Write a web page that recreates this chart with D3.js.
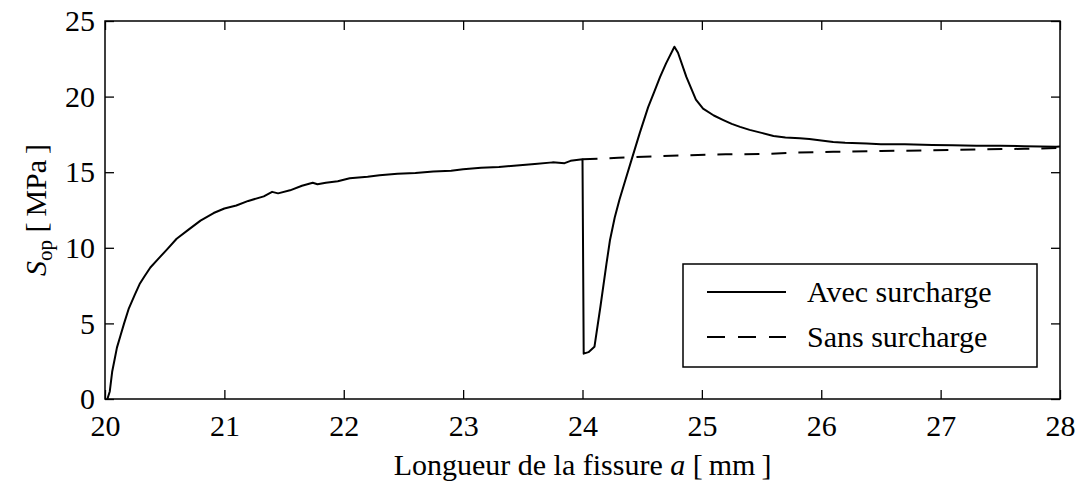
<!DOCTYPE html>
<html>
<head>
<meta charset="utf-8">
<script src="https://cdn.jsdelivr.net/npm/d3@7"></script>
<style>
	body { margin: 0; background: #fff; }
	svg { display: block; }
	text { font-family: 'Liberation Serif', 'DejaVu Serif', serif; fill: #000; }
</style>
</head>
<body>
<svg id="chart"></svg>
<script>
// ========== DATA ==========
var avecA = [20.02, 20.04, 20.06, 20.08, 20.10, 20.13, 20.16, 20.20, 20.25, 20.29, 20.33, 20.38,
	20.45, 20.52, 20.60, 20.70, 20.80, 20.91, 21.00, 21.10, 21.20, 21.33, 21.40, 21.45, 21.55,
	21.65, 21.74, 21.78, 21.85, 21.95, 22.05, 22.20, 22.30, 22.45, 22.60, 22.75, 22.90, 23.00,
	23.15, 23.30, 23.45, 23.60, 23.75, 23.85, 23.90, 24.00, 24.01, 24.05, 24.10, 24.15, 24.20,
	24.23, 24.27, 24.31, 24.36, 24.41, 24.48, 24.55, 24.60, 24.65, 24.70, 24.77, 24.80, 24.87,
	24.95, 25.01, 25.10, 25.18, 25.25, 25.32, 25.40, 25.50, 25.60, 25.70, 25.82, 25.90, 26.00,
	26.10, 26.20, 26.38, 26.50, 26.70, 26.93, 27.10, 27.30, 27.50, 27.70, 27.97, 28.00];
var avecS = [0, 0.5, 1.8, 2.6, 3.4, 4.2, 5.0, 6.0, 6.9, 7.6, 8.1, 8.7,
	9.3, 9.9, 10.6, 11.2, 11.8, 12.3, 12.6, 12.8, 13.1, 13.4, 13.7, 13.6, 13.8,
	14.1, 14.3, 14.2, 14.3, 14.4, 14.6, 14.7, 14.8, 14.9, 14.95, 15.05, 15.1, 15.2,
	15.3, 15.35, 15.45, 15.55, 15.65, 15.6, 15.75, 15.85, 3.0, 3.1, 3.45, 6.1, 8.9,
	10.5, 12.0, 13.2, 14.5, 15.8, 17.6, 19.3, 20.3, 21.3, 22.2, 23.3, 22.9, 21.3,
	19.8, 19.2, 18.75, 18.45, 18.2, 18.0, 17.8, 17.6, 17.4, 17.3, 17.24, 17.2, 17.1,
	17.0, 16.95, 16.9, 16.85, 16.85, 16.8, 16.78, 16.75, 16.75, 16.72, 16.69, 16.7];

var sansA = [24.00, 24.30, 24.60, 24.90, 25.20, 25.50, 25.80, 26.10, 26.50, 26.90, 27.30, 27.70, 28.00];
var sansS = [15.85, 15.95, 16.05, 16.12, 16.18, 16.20, 16.30, 16.35, 16.40, 16.45, 16.50, 16.55, 16.60];

var xTicks = [20, 21, 22, 23, 24, 25, 26, 27, 28];
var yTicks = [0, 5, 10, 15, 20, 25];
var seriesNames = ['Avec surcharge', 'Sans surcharge'];

// ========== LAYOUT ==========
var width = 1080, height = 486;
var plotLeft = 105, plotRight = 1060, plotTop = 21, plotBottom = 399;
var fontSize = 30;

var svg = d3.select('#chart')
	.attr('width', width)
	.attr('height', height);

var x = d3.scaleLinear().domain([20, 28]).range([plotLeft, plotRight]);
var y = d3.scaleLinear().domain([0, 25]).range([plotBottom, plotTop]);

// axes, ticks pointing inward on all four sides
function styleAxis(g) {
	g.select('.domain').remove();
	g.attr('font-family', null).attr('font-size', null);
	g.selectAll('line').attr('stroke', '#000').attr('stroke-width', 1.3);
	g.selectAll('text').style('font-size', fontSize + 'px').attr('fill', '#000');
}

svg.append('g')
	.attr('transform', 'translate(0,' + plotBottom + ')')
	.call(d3.axisBottom(x).tickValues(xTicks).tickSize(-9).tickPadding(16).tickFormat(d3.format('d')))
	.call(styleAxis);
svg.append('g')
	.attr('transform', 'translate(0,' + plotTop + ')')
	.call(d3.axisTop(x).tickValues(xTicks).tickSize(-9).tickFormat(''))
	.call(styleAxis);
svg.append('g')
	.attr('transform', 'translate(' + plotLeft + ',0)')
	.call(d3.axisLeft(y).tickValues(yTicks).tickSize(-9).tickPadding(10).tickFormat(d3.format('d')))
	.call(styleAxis);
svg.append('g')
	.attr('transform', 'translate(' + plotRight + ',0)')
	.call(d3.axisRight(y).tickValues(yTicks).tickSize(-9).tickFormat(''))
	.call(styleAxis);

// frame
svg.append('rect')
	.attr('x', plotLeft).attr('y', plotTop)
	.attr('width', plotRight - plotLeft).attr('height', plotBottom - plotTop)
	.attr('fill', 'none')
	.attr('stroke', '#000')
	.attr('stroke-width', 1.5);

// curves
var line = d3.line()
	.x(function(d) { return x(d[0]); })
	.y(function(d) { return y(d[1]); });

var sansData = sansA.map(function(a, i) { return [a, sansS[i]]; });
var avecData = avecA.map(function(a, i) { return [a, avecS[i]]; });

svg.append('path')
	.datum(sansData)
	.attr('d', line)
	.attr('fill', 'none')
	.attr('stroke', '#000')
	.attr('stroke-width', 2)
	.attr('stroke-dasharray', '15,12');

svg.append('path')
	.datum(avecData)
	.attr('d', line)
	.attr('fill', 'none')
	.attr('stroke', '#000')
	.attr('stroke-width', 2)
	.attr('stroke-linejoin', 'round');

// legend
var legend = svg.append('g');
legend.append('rect')
	.attr('x', 683).attr('y', 264)
	.attr('width', 354).attr('height', 103)
	.attr('fill', '#fff')
	.attr('stroke', '#000')
	.attr('stroke-width', 1.5);

seriesNames.forEach(function(name, i) {
	var ly = 292 + i * 45;
	legend.append('line')
		.attr('x1', 707).attr('x2', 786)
		.attr('y1', ly).attr('y2', ly)
		.attr('stroke', '#000')
		.attr('stroke-width', 2)
		.attr('stroke-dasharray', i === 0 ? null : '18,13');
	legend.append('text')
		.attr('x', 807).attr('y', ly + 10)
		.style('font-size', '30px')
		.text(name);
});

// axis labels
var xl = svg.append('text')
	.attr('x', (plotLeft + plotRight) / 2)
	.attr('y', 475)
	.attr('text-anchor', 'middle')
	.style('font-size', '30px');
xl.append('tspan').text('Longueur de la fissure ');
xl.append('tspan').style('font-style', 'italic').text('a');
xl.append('tspan').text(' [\u2009mm\u2009]');

var yl = svg.append('text')
	.attr('transform', 'translate(46,' + (plotTop + plotBottom) / 2 + ')rotate(-90)')
	.attr('text-anchor', 'middle')
	.style('font-size', '30px');
yl.append('tspan').style('font-style', 'italic').text('S');
yl.append('tspan').attr('dy', 6).style('font-size', '21px').text('op');
yl.append('tspan').attr('dy', -6).text(' [\u2009MPa\u2009]');
</script>
</body>
</html>
